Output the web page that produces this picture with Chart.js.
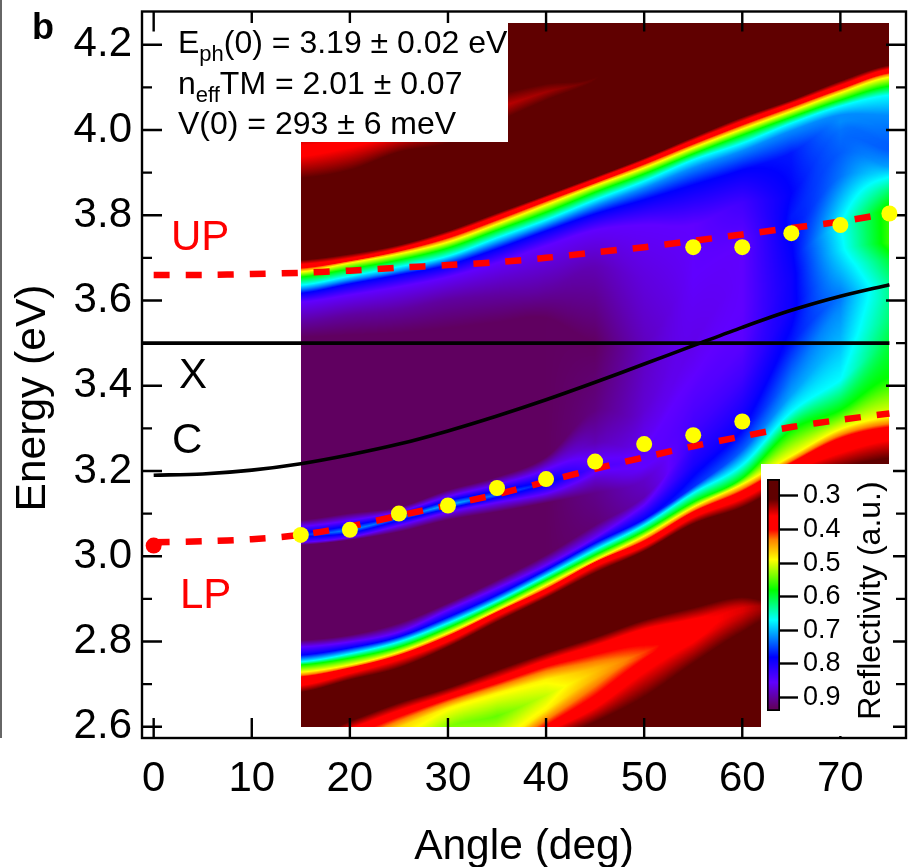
<!DOCTYPE html>
<html>
<head>
<meta charset="utf-8">
<title>Reflectivity map</title>
<script src="https://cdn.jsdelivr.net/npm/chart.js@4"></script>
<style>
  body { margin: 0; background: #fff; overflow: hidden; }
  #wrap { position: relative; width: 908px; height: 867px; font-family: "Liberation Sans", Arial, sans-serif; }
  #wrap canvas { position: absolute; left: 0; top: 0; }
  #colorbar { left: 761px !important; top: 464px !important; background: #fff; }
  .note { position: absolute; white-space: pre; color: #000; }
  .fit { font-size: 32px; left: 178px; line-height: 40px; }
  .fit span { font-size: 22px; position: relative; top: 8px; }
  .big { font-size: 42px; }
  #fitBox { position: absolute; left: 172px; top: 23px; width: 336px; height: 119px; background: #fff; }
  #edge { position: absolute; left: 0; top: 0; width: 1.5px; height: 738px; background: #666; }
</style>
</head>
<body>
<div id="wrap">
  <canvas id="mainChart" width="908" height="867"></canvas>
  <div id="edge"></div>
  <div id="fitBox"></div>
  <div class="note fit" style="top:22px">E<span>ph</span>(0) = 3.19 ± 0.02 eV</div>
  <div class="note fit" style="top:63px">n<span>eff</span>TM = 2.01 ± 0.07</div>
  <div class="note fit" style="top:103px">V(0) = 293 ± 6 meV</div>
  <div class="note big" style="left:171px;top:212px;color:#f00">UP</div>
  <div class="note big" style="left:180px;top:570px;color:#f00">LP</div>
  <div class="note big" style="left:179px;top:350px">X</div>
  <div class="note big" style="left:172px;top:415px">C</div>
  <div class="note" style="left:32px;top:6px;font-size:36px;font-weight:bold">b</div>
  <canvas id="colorbar" width="132" height="272"></canvas>
</div>

<script>
// Axis ticks
const xTicks = [0, 10, 20, 30, 40, 50, 60, 70];
const yMajorTicks = [2.6, 2.8, 3.0, 3.2, 3.4, 3.6, 3.8, 4.0, 4.2];
const yMinorTicks = [2.7, 2.9, 3.1, 3.3, 3.5, 3.7, 3.9, 4.1];
const colorbarTicks = [0.3, 0.4, 0.5, 0.6, 0.7, 0.8, 0.9];

// Curves
const curveAngles = [0, 5, 10, 15, 20, 25, 30, 35, 40, 45, 50, 55, 60, 65, 70, 75];
const upperPolariton = [3.66, 3.66, 3.662, 3.665, 3.67, 3.677, 3.683, 3.69, 3.70, 3.713, 3.725, 3.74, 3.755, 3.77, 3.785, 3.805];
const lowerPolariton = [3.033, 3.035, 3.04, 3.05, 3.07, 3.095, 3.12, 3.145, 3.175, 3.205, 3.232, 3.258, 3.281, 3.303, 3.32, 3.335];
const photon = [3.19, 3.193, 3.202, 3.217, 3.238, 3.263, 3.294, 3.329, 3.367, 3.408, 3.451, 3.494, 3.537, 3.577, 3.61, 3.637];
const excitonAngles = [-1.19, 75];
const exciton = [3.5, 3.5];

// Measured points
const lpAngles = [15, 20, 25, 30, 35, 40, 45, 50, 55, 60];
const lpEnergies = [3.05, 3.062, 3.10, 3.119, 3.16, 3.181, 3.222, 3.263, 3.284, 3.316];
const upAngles = [55, 60, 65, 70, 75];
const upEnergies = [3.725, 3.725, 3.758, 3.777, 3.804];
const zeroAngle = [0];
const zeroEnergy = [3.025];

// Reflectivity colour scale
const cmapValues = [0.25, 0.31, 0.36, 0.40, 0.43, 0.49, 0.58, 0.67, 0.78, 0.855, 0.93, 0.94];
const cmapColors = ["#600000", "#600000", "#ff0000", "#ff0000", "#ff8000", "#ffff00", "#00ff00", "#00ffff", "#0000ff", "#6000ff", "#600060", "#600060"];

// Reflectivity map: energy of each level (eV) at each measured angle, low energy first
const heatAngles = [15, 20, 25, 30, 35, 40, 45, 50, 55, 60, 65, 70, 75];
const blobLowM = [2.498, 2.428, 2.428, 2.463, 2.498, 2.564, 2.611, 2.670, 2.749, 2.822, 2.869, 2.869, 2.869];
const blobLowR = [2.510, 2.451, 2.451, 2.487, 2.522, 2.590, 2.651, 2.738, 2.803, 2.855, 2.874, 2.874, 2.874];
const blobLowY = [2.522, 2.475, 2.475, 2.522, 2.557, 2.639, 2.714, 2.766, 2.817, 2.869, 2.876, 2.876, 2.876];
const blobCore = [2.534, 2.498, 2.522, 2.599, 2.625, 2.674, 2.728, 2.775, 2.827, 2.874, 2.879, 2.879, 2.879];
const blobUpY = [2.545, 2.557, 2.599, 2.644, 2.679, 2.710, 2.738, 2.780, 2.832, 2.879, 2.881, 2.881, 2.881];
const blobUpR = [2.557, 2.592, 2.634, 2.672, 2.710, 2.752, 2.787, 2.825, 2.850, 2.886, 2.883, 2.883, 2.883];
const blobUpM = [2.569, 2.613, 2.656, 2.691, 2.733, 2.773, 2.810, 2.850, 2.879, 2.904, 2.886, 2.886, 2.886];
const lpEdgeM = [2.681, 2.710, 2.738, 2.787, 2.846, 2.902, 2.961, 3.012, 3.076, 3.115, 3.174, 3.207, 3.230];
const lpEdgeR = [2.700, 2.728, 2.761, 2.803, 2.862, 2.916, 2.979, 3.026, 3.094, 3.139, 3.202, 3.249, 3.280];
const lpEdgeO = [2.717, 2.738, 2.768, 2.813, 2.869, 2.923, 2.986, 3.036, 3.104, 3.153, 3.219, 3.277, 3.303];
const lpEdgeY = [2.728, 2.745, 2.775, 2.820, 2.874, 2.932, 2.991, 3.047, 3.115, 3.169, 3.235, 3.298, 3.327];
const lpEdgeG = [2.745, 2.761, 2.787, 2.832, 2.886, 2.944, 3.003, 3.059, 3.127, 3.183, 3.296, 3.343, 3.420];
const lpEdgeC = [2.752, 2.771, 2.799, 2.843, 2.895, 2.954, 3.015, 3.073, 3.148, 3.214, 3.338, 3.413, 3.500];
const mid1 = [2.768, 2.785, 2.811, 2.857, 2.909, 2.968, 3.031, 3.087, 3.162, 3.249, 3.378, 3.500, 3.554];
const mid2 = [2.787, 2.799, 2.822, 2.874, 2.925, 2.979, 3.043, 3.120, 3.214, 3.296, 3.420, 3.578, 3.601];
const mid3 = [2.803, 2.815, 2.843, 2.890, 2.944, 3.003, 3.073, 3.139, 3.261, 3.343, 3.500, 3.608, 3.641];
const mid4 = [3.026, 3.038, 3.057, 3.085, 3.104, 3.125, 3.148, 3.179, 3.296, 3.420, 3.578, 3.672, 3.695];
const mid5 = [3.033, 3.045, 3.073, 3.104, 3.127, 3.148, 3.179, 3.209, 3.343, 3.500, 3.655, 3.718, 3.735];
const mid6 = [3.050, 3.062, 3.090, 3.120, 3.144, 3.172, 3.207, 3.245, 3.420, 3.578, 3.695, 3.777, 3.812];
const mid7 = [3.069, 3.083, 3.104, 3.139, 3.167, 3.202, 3.266, 3.273, 3.500, 3.655, 3.735, 3.836, 3.859];
const mid8 = [3.085, 3.101, 3.115, 3.155, 3.186, 3.233, 3.343, 3.343, 3.578, 3.718, 3.765, 3.890, 3.890];
const mid9 = [3.514, 3.519, 3.524, 3.535, 3.549, 3.559, 3.500, 3.500, 3.655, 3.735, 3.796, 3.946, 3.913];
const mid10 = [3.549, 3.566, 3.578, 3.601, 3.613, 3.624, 3.679, 3.655, 3.718, 3.789, 3.824, 3.976, 3.953];
const mid11 = [3.596, 3.613, 3.632, 3.655, 3.688, 3.728, 3.765, 3.777, 3.777, 3.829, 3.852, 4.000, 3.969];
const upEdgeB = [3.617, 3.639, 3.660, 3.683, 3.721, 3.763, 3.803, 3.836, 3.871, 3.906, 3.946, 4.019, 4.005];
const upEdgeL = [3.627, 3.648, 3.669, 3.695, 3.735, 3.777, 3.822, 3.864, 3.911, 3.951, 3.998, 4.035, 4.035];
const upEdgeC = [3.636, 3.657, 3.679, 3.704, 3.747, 3.789, 3.836, 3.880, 3.930, 3.969, 4.016, 4.056, 4.082];
const upEdgeG = [3.655, 3.674, 3.695, 3.723, 3.765, 3.807, 3.854, 3.897, 3.944, 3.988, 4.030, 4.070, 4.103];
const upEdgeY = [3.667, 3.688, 3.709, 3.737, 3.779, 3.824, 3.869, 3.911, 3.958, 4.002, 4.044, 4.087, 4.124];
const upEdgeO = [3.676, 3.693, 3.716, 3.747, 3.789, 3.833, 3.876, 3.920, 3.967, 4.012, 4.054, 4.096, 4.134];
const upEdgeR = [3.683, 3.697, 3.721, 3.754, 3.796, 3.840, 3.883, 3.927, 3.974, 4.019, 4.061, 4.103, 4.141];
const upEdgeM = [3.695, 3.709, 3.730, 3.763, 3.805, 3.847, 3.890, 3.934, 3.983, 4.030, 4.070, 4.115, 4.152];
const streakLow = [3.887, 3.906, 3.948, 3.969, 4.019, 4.070, 4.115, 4.188, 4.188, 4.188, 4.188, 4.188, 4.188];
const streakCore = [3.953, 3.969, 3.988, 4.012, 4.051, 4.089, 4.120, 4.199, 4.199, 4.199, 4.199, 4.199, 4.199];
const streakUp = [4.000, 4.012, 4.028, 4.047, 4.082, 4.108, 4.124, 4.211, 4.211, 4.211, 4.211, 4.211, 4.211];

// Reflectivity of those levels (one number when the level keeps its value)
const heatLevels = [
  [blobLowM, [.30, .31, .31, .31, .31, .31, .31, .31, .31, .31, .30, .30, .30]],
  [blobLowR, [.30, .37, .37, .37, .37, .37, .37, .37, .365, .34, .30, .30, .30]],
  [blobLowY, [.30, .45, .50, .50, .48, .485, .455, .41, .37, .35, .30, .30, .30]],
  [blobCore, [.30, .50, .53, .535, .545, .51, .46, .415, .37, .35, .30, .30, .30]],
  [blobUpY, [.30, .45, .47, .485, .485, .485, .455, .41, .37, .35, .30, .30, .30]],
  [blobUpR, [.30, .37, .37, .37, .37, .37, .37, .37, .365, .34, .30, .30, .30]],
  [blobUpM, [.30, .31, .31, .31, .31, .31, .31, .31, .31, .31, .30, .30, .30]],
  [lpEdgeM, .31], [lpEdgeR, .37], [lpEdgeO, .40], [lpEdgeY, .49], [lpEdgeG, .58],
  [lpEdgeC, [.67, .67, .67, .67, .67, .67, .67, .67, .67, .67, .67, .67, .60]],
  [mid1, [.78, .78, .78, .78, .78, .78, .78, .78, .76, .74, .71, .70, .62]],
  [mid2, [.855, .855, .855, .855, .855, .855, .855, .855, .80, .78, .73, .72, .63]],
  [mid3, [.93, .93, .93, .93, .93, .93, .92, .89, .82, .80, .77, .73, .63]],
  [mid4, [.93, .93, .93, .93, .93, .93, .91, .88, .83, .83, .79, .70, .60]],
  [mid5, [.85, .85, .85, .85, .85, .85, .88, .855, .84, .85, .79, .68, .56]],
  [mid6, [.76, .72, .74, .70, .74, .77, .84, .85, .855, .855, .785, .67, .56]],
  [mid7, [.85, .85, .85, .85, .85, .85, .89, .86, .865, .855, .78, .70, .62]],
  [mid8, [.93, .93, .93, .93, .93, .93, .915, .875, .86, .855, .775, .73, .67]],
  [mid9, [.93, .93, .93, .93, .93, .93, .93, .885, .855, .855, .77, .74, .71]],
  [mid10, [.90, .90, .90, .90, .90, .90, .89, .87, .855, .84, .775, .735, .74]],
  [mid11, [.855, .855, .855, .855, .855, .855, .855, .855, .855, .83, .78, .73, .74]],
  [upEdgeB, [.78, .78, .78, .78, .78, .78, .78, .78, .78, .78, .77, .72, .73]],
  [upEdgeL, .72], [upEdgeC, .67], [upEdgeG, .58], [upEdgeY, .49], [upEdgeO, .40], [upEdgeR, .37], [upEdgeM, .31],
  [streakLow, [.31, .31, .31, .31, .31, .31, .31, .29, .29, .29, .29, .29, .29]],
  [streakCore, [.375, .37, .36, .35, .34, .33, .312, .29, .29, .29, .29, .29, .29]],
  [streakUp, [.31, .31, .31, .31, .31, .31, .31, .29, .29, .29, .29, .29, .29]]
];
const heatBackground = 0.29;
const heatTop = 4.25;
const heatBottom = 2.6;

function pairs(xs, ys) {
  return xs.map((x, i) => ({ x: x, y: ys[i] }));
}

function hexToRgb(hex) {
  return [1, 3, 5].map(i => parseInt(hex.slice(i, i + 2), 16));
}

// colour of a reflectivity value
function valueToRgb(v) {
  const n = cmapValues.length;
  if (v <= cmapValues[0]) return hexToRgb(cmapColors[0]);
  if (v >= cmapValues[n - 1]) return hexToRgb(cmapColors[n - 1]);
  let i = 0;
  while (v > cmapValues[i + 1]) i++;
  const t = (v - cmapValues[i]) / (cmapValues[i + 1] - cmapValues[i]);
  const a = hexToRgb(cmapColors[i]);
  const b = hexToRgb(cmapColors[i + 1]);
  return [a[0] + (b[0] - a[0]) * t, a[1] + (b[1] - a[1]) * t, a[2] + (b[2] - a[2]) * t];
}

// rounds off the level lines between two measured angles
function smoothBetween(e, i, t) {
  const p0 = e[Math.max(0, i - 1)];
  const p1 = e[i];
  const p2 = e[i + 1];
  const p3 = e[Math.min(e.length - 1, i + 2)];
  return p1 + 0.5 * t * (p2 - p0 + t * (2 * p0 - 5 * p1 + 4 * p2 - p3 + t * (3 * (p1 - p2) + p3 - p0)));
}

// paints the map through the chart's scales
const heatmapPlugin = {
  id: "heatmap",
  beforeDatasetsDraw(chart) {
    const xs = chart.scales.x;
    const ys = chart.scales.y;
    const left = Math.round(xs.getPixelForValue(heatAngles[0]));
    const right = Math.round(xs.getPixelForValue(heatAngles[heatAngles.length - 1]));
    const top = Math.round(ys.getPixelForValue(heatTop));
    const bottom = Math.round(ys.getPixelForValue(heatBottom));
    const w = right - left;
    const h = bottom - top;
    const off = document.createElement("canvas");
    off.width = w;
    off.height = h;
    const octx = off.getContext("2d");
    const img = octx.createImageData(w, h);

    const lut = [];
    for (let k = 0; k <= 1000; k++) lut.push(valueToRgb(0.25 + 0.69 * k / 1000));

    for (let px = 0; px < w; px++) {
      const angle = xs.getValueForPixel(left + px + 0.5);
      let i = 0;
      while (i < heatAngles.length - 2 && angle > heatAngles[i + 1]) i++;
      const t = Math.min(1, Math.max(0, (angle - heatAngles[i]) / (heatAngles[i + 1] - heatAngles[i])));
      const es = [];
      const vs = [];
      heatLevels.forEach(level => {
        const e = level[0];
        const v = level[1];
        es.push(smoothBetween(e, i, t));
        vs.push(Array.isArray(v) ? v[i] + (v[i + 1] - v[i]) * t : v);
      });
      let j = 0;
      for (let py = h - 1; py >= 0; py--) {
        const energy = ys.getValueForPixel(top + py + 0.5);
        while (j < es.length && energy > es[j]) j++;
        let value;
        if (j === 0 || j === es.length) {
          value = heatBackground;
        } else {
          const span = es[j] - es[j - 1];
          value = span > 0 ? vs[j - 1] + (vs[j] - vs[j - 1]) * (energy - es[j - 1]) / span : vs[j];
        }
        const rgb = lut[Math.max(0, Math.min(1000, Math.round((value - 0.25) / 0.69 * 1000)))];
        const o = (py * w + px) * 4;
        img.data[o] = rgb[0];
        img.data[o + 1] = rgb[1];
        img.data[o + 2] = rgb[2];
        img.data[o + 3] = 255;
      }
    }
    octx.putImageData(img, 0, 0);
    chart.ctx.drawImage(off, left, top);

    // frame and inward ticks sit on top of the map
    const ctx = chart.ctx;
    const area = chart.chartArea;
    ctx.save();
    ctx.strokeStyle = "#000";
    ctx.lineWidth = 2.4;
    ctx.strokeRect(area.left, area.top, area.right - area.left, area.bottom - area.top);
    ctx.beginPath();
    xTicks.forEach(v => {
      const p = xs.getPixelForValue(v);
      ctx.moveTo(p, area.bottom);
      ctx.lineTo(p, area.bottom - 20);
      ctx.moveTo(p, area.top);
      ctx.lineTo(p, area.top + 20);
    });
    yMajorTicks.forEach(v => {
      const p = ys.getPixelForValue(v);
      ctx.moveTo(area.left, p);
      ctx.lineTo(area.left + 20, p);
      ctx.moveTo(area.right, p);
      ctx.lineTo(area.right - 20, p);
    });
    yMinorTicks.forEach(v => {
      const p = ys.getPixelForValue(v);
      ctx.moveTo(area.left, p);
      ctx.lineTo(area.left + 10, p);
      ctx.moveTo(area.right, p);
      ctx.lineTo(area.right - 10, p);
    });
    ctx.stroke();
    ctx.restore();
  }
};

// axis titles sit off-centre in the original, so they are placed by hand
const axisTitlesPlugin = {
  id: "axisTitles",
  afterDraw(chart) {
    const ctx = chart.ctx;
    ctx.save();
    ctx.fillStyle = "#000";
    ctx.font = "42.5px 'Liberation Sans'";
    ctx.textAlign = "center";
    ctx.textBaseline = "alphabetic";
    ctx.fillText("Angle (deg)", 524, 859);
    ctx.translate(45, 398);
    ctx.rotate(-Math.PI / 2);
    ctx.fillText("Energy (eV)", 0, 0);
    ctx.restore();
  }
};

function noScalePadding(scale) {
  scale.paddingTop = 0;
  scale.paddingBottom = 0;
  scale.paddingLeft = 0;
  scale.paddingRight = 0;
}

new Chart(document.getElementById("mainChart").getContext("2d"), {
  type: "scatter",
  data: {
    datasets: [
      { label: "LP points", data: pairs(lpAngles, lpEnergies), backgroundColor: "#ffff00", borderWidth: 0, pointRadius: 8, order: 1 },
      { label: "UP points", data: pairs(upAngles, upEnergies), backgroundColor: "#ffff00", borderWidth: 0, pointRadius: 8, order: 1 },
      { label: "0 deg point", data: pairs(zeroAngle, zeroEnergy), backgroundColor: "#ff0000", borderWidth: 0, pointRadius: 8, order: 2 },
      { label: "UP", data: pairs(curveAngles, upperPolariton), showLine: true, pointRadius: 0, borderColor: "#ff0000", borderWidth: 6.5, borderDash: [16, 16], tension: 0.3, order: 3 },
      { label: "LP", data: pairs(curveAngles, lowerPolariton), showLine: true, pointRadius: 0, borderColor: "#ff0000", borderWidth: 6.5, borderDash: [16, 16], tension: 0.3, order: 3 },
      { label: "C", data: pairs(curveAngles, photon), showLine: true, pointRadius: 0, borderColor: "#000", borderWidth: 3.6, tension: 0.3, order: 4 },
      { label: "X", data: pairs(excitonAngles, exciton), showLine: true, pointRadius: 0, borderColor: "#000", borderWidth: 3.6, order: 4 }
    ]
  },
  options: {
    responsive: false,
    animation: false,
    devicePixelRatio: 1,
    layout: { autoPadding: false, padding: { top: 11.5, right: 2, left: 0, bottom: 0 } },
    plugins: { legend: { display: false }, tooltip: { enabled: false } },
    scales: {
      x: {
        type: "linear",
        min: -1.19,
        max: 76.69,
        afterBuildTicks(scale) { scale.ticks = xTicks.map(v => ({ value: v })); },
        afterFit(scale) { scale.height = 129; noScalePadding(scale); },
        grid: { display: false, drawTicks: false },
        border: { display: false },
        ticks: { color: "#000", font: { family: "Liberation Sans", size: 42 }, padding: 16, maxRotation: 0, autoSkip: false, callback: v => String(v) }
      },
      y: {
        type: "linear",
        min: 2.5735,
        max: 4.278,
        afterBuildTicks(scale) { scale.ticks = yMajorTicks.map(v => ({ value: v })); },
        afterFit(scale) { scale.width = 142; noScalePadding(scale); },
        grid: { display: false, drawTicks: false },
        border: { display: false },
        ticks: { color: "#000", font: { family: "Liberation Sans", size: 42 }, padding: 10, autoSkip: false, callback: v => v.toFixed(1) }
      }
    }
  },
  plugins: [heatmapPlugin, axisTitlesPlugin]
});

// Colour bar inset
const colorbarRange = [0.25, 0.94];
const colorbarTitlePlugin = {
  id: "colorbarTitle",
  afterDraw(chart) {
    const ctx = chart.ctx;
    ctx.save();
    ctx.translate(110, 136.5);
    ctx.rotate(-Math.PI / 2);
    ctx.fillStyle = "#000";
    ctx.font = "32px 'Liberation Sans'";
    ctx.textAlign = "center";
    ctx.textBaseline = "middle";
    ctx.fillText("Reflectivity (a.u.)", 0, 0);
    ctx.restore();
  }
};

new Chart(document.getElementById("colorbar").getContext("2d"), {
  type: "bar",
  data: {
    labels: ["Reflectivity"],
    datasets: [{
      data: [colorbarRange],
      barPercentage: 1,
      categoryPercentage: 1,
      borderColor: "#000",
      borderWidth: 2,
      borderSkipped: false,
      backgroundColor(context) {
        const area = context.chart.chartArea;
        if (!area) return "#000";
        const g = context.chart.ctx.createLinearGradient(0, area.top, 0, area.bottom);
        cmapValues.forEach((v, i) => {
          g.addColorStop((v - colorbarRange[0]) / (colorbarRange[1] - colorbarRange[0]), cmapColors[i]);
        });
        return g;
      }
    }]
  },
  options: {
    responsive: false,
    animation: false,
    devicePixelRatio: 1,
    layout: { autoPadding: false, padding: { left: 6, top: 15, bottom: 25, right: 0 } },
    plugins: { legend: { display: false }, tooltip: { enabled: false } },
    scales: {
      x: { display: false },
      y: {
        position: "right",
        reverse: true,
        min: colorbarRange[0],
        max: colorbarRange[1],
        afterBuildTicks(scale) { scale.ticks = colorbarTicks.map(v => ({ value: v })); },
        afterFit(scale) { scale.width = 113; noScalePadding(scale); },
        grid: { drawOnChartArea: false, tickLength: 18, tickWidth: 2.4, color: "#000" },
        border: { display: false },
        ticks: { color: "#000", font: { family: "Liberation Sans", size: 27 }, padding: 5, autoSkip: false, callback: v => v.toFixed(1) }
      }
    }
  },
  plugins: [colorbarTitlePlugin]
});
</script>
</body>
</html>
